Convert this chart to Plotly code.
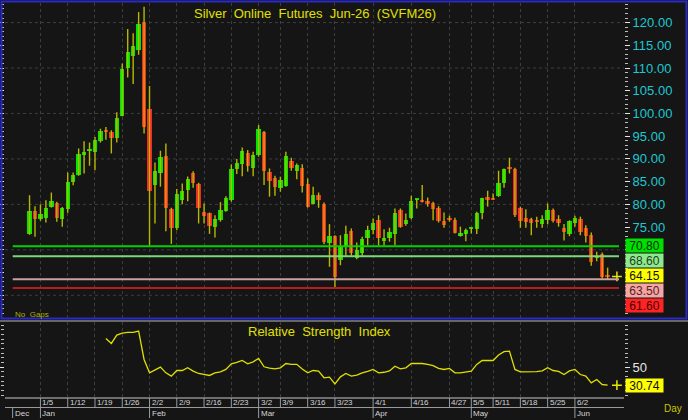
import plotly.graph_objects as go

# ---------------- data ----------------
opens = [73.5, 78.6, 76.7, 76.9, 79.5, 80.35, 76.7, 78.95, 84.9, 86.45,
         90.9, 91.8, 91.5, 93.9, 96.3, 96.0, 94.5, 99.45, 110.0, 112.65,
         113.9, 120.2, 101.0, 84.25, 87.0, 90.6, 78.9, 74.85, 80.95, 83.1,
         86.8, 84.4, 78.4, 78.0, 75.1, 76.5, 78.6, 81.0, 87.7, 88.8,
         91.4, 87.9, 90.85, 96.0, 87.2, 85.7, 83.65, 84.1, 89.6, 87.3,
         88.1, 84.5, 80.1, 82.0, 80.05, 71.55, 73.1, 67.7, 70.65, 74.2,
         68.1, 69.2, 72.7, 74.4, 76.5, 71.9, 72.5, 73.45, 78.8, 75.65,
         76.9, 81.1, 80.95, 80.8, 80.4, 79.25, 76.4, 76.8, 76.6, 73.1,
         73.45, 74.6, 74.55, 78.0, 81.6, 81.3, 81.8, 84.75, 88.2, 87.8,
         79.3, 77.05, 76.7, 76.25, 75.6, 76.5, 78.7, 76.7, 74.7, 73.45,
         75.95, 76.8, 74.7, 73.2, 68.2, 69.0, 64.2]
highs = [82.0, 79.6, 80.0, 80.9, 82.6, 80.6, 79.4, 87.0, 87.0, 92.3,
         93.9, 93.6, 94.8, 96.65, 97.0, 96.3, 100.25, 111.0, 118.6, 117.65,
         122.3, 123.5, 106.05, 89.2, 91.8, 93.4, 79.25, 83.4, 84.6, 86.15,
         87.3, 84.75, 80.2, 78.2, 77.6, 80.5, 81.8, 88.8, 90.0, 92.5,
         91.95, 91.6, 97.45, 96.15, 87.9, 86.3, 86.1, 91.6, 90.25, 89.0,
         88.8, 85.7, 83.9, 82.6, 80.4, 75.65, 73.2, 73.2, 75.3, 74.7,
         71.6, 72.9, 75.3, 76.9, 77.6, 74.55, 74.85, 79.1, 79.1, 78.0,
         81.9, 81.2, 84.25, 81.5, 80.6, 79.6, 78.2, 77.5, 77.05, 75.1,
         74.7, 74.85, 78.4, 81.45, 83.0, 82.4, 87.4, 87.9, 90.25, 88.05,
         79.5, 78.95, 77.05, 77.3, 77.6, 80.2, 79.1, 77.6, 75.7, 76.5,
         77.5, 77.3, 75.4, 73.8, 69.55, 69.4, 66.1]
lows = [73.3, 72.9, 76.4, 76.0, 79.3, 76.2, 75.1, 78.15, 84.2, 86.3,
        86.8, 88.5, 87.5, 93.6, 94.2, 91.2, 93.6, 99.4, 107.9, 106.5,
        112.9, 95.6, 70.9, 75.8, 83.9, 74.1, 71.3, 74.3, 80.0, 80.7,
        83.65, 75.8, 75.8, 73.5, 72.7, 76.2, 78.4, 80.6, 86.7, 86.2,
        87.2, 86.2, 90.5, 84.25, 81.7, 81.9, 82.8, 83.9, 87.4, 85.55,
        82.6, 79.3, 80.0, 79.25, 71.2, 66.25, 61.6, 66.6, 68.7, 68.7,
        67.9, 68.7, 71.0, 73.4, 70.9, 70.9, 71.8, 71.0, 74.85, 75.3,
        76.75, 79.1, 80.4, 79.5, 76.5, 76.0, 74.85, 76.2, 73.6, 72.9,
        71.9, 73.6, 73.5, 76.75, 79.5, 81.0, 81.65, 83.65, 86.8, 77.2,
        74.85, 74.85, 73.2, 74.85, 74.85, 75.6, 76.0, 75.1, 72.05, 73.0,
        75.1, 73.2, 71.6, 66.5, 67.5, 63.7, 63.5]
closes = [78.6, 76.7, 77.8, 79.2, 80.8, 77.05, 79.25, 85.0, 86.4, 91.15,
          91.5, 91.9, 94.2, 96.2, 96.1, 94.5, 98.9, 109.8, 113.6, 114.8,
          119.6, 97.1, 83.0, 87.3, 90.5, 79.1, 74.7, 82.2, 83.0, 85.6,
          84.75, 79.1, 77.5, 75.2, 76.8, 78.8, 81.45, 87.8, 89.0, 91.8,
          88.4, 90.85, 96.6, 87.3, 85.1, 83.9, 85.4, 90.6, 88.05, 88.65,
          84.1, 79.5, 82.0, 80.9, 71.8, 73.0, 64.05, 70.65, 73.5, 69.2,
          69.9, 72.35, 74.3, 76.0, 72.5, 72.6, 74.0, 78.2, 75.1, 76.5,
          80.7, 81.2, 80.6, 80.0, 78.95, 76.3, 75.45, 76.7, 73.8, 73.6,
          74.4, 74.7, 78.0, 81.3, 81.0, 81.1, 84.8, 87.7, 87.9, 77.6,
          76.3, 76.2, 75.95, 76.15, 76.7, 78.7, 76.3, 75.95, 74.0, 76.3,
          77.05, 74.0, 73.1, 67.35, 68.3, 64.05, 64.15]

rsi_idx = list(range(14, 107))
rsi_vals = [80.7, 75.4, 84.3, 86.5, 87.1, 87.1, 88.6, 58.2, 43.9, 47.0,
            50.0, 43.9, 40.4, 46.4, 46.4, 49.3, 45.7, 43.2, 42.0, 41.1,
            43.9, 45.0, 47.5, 53.6, 55.0, 57.1, 53.6, 55.7, 59.3, 50.4,
            49.0, 48.2, 49.3, 53.9, 52.9, 53.0, 48.0, 43.9, 46.4, 45.7,
            38.6, 39.3, 32.1, 39.6, 43.2, 40.4, 41.4, 43.9, 45.5, 47.5,
            43.9, 44.5, 46.0, 51.0, 48.2, 49.3, 53.9, 54.0, 53.9, 52.9,
            51.5, 48.6, 47.5, 48.6, 43.9, 43.9, 44.5, 45.7, 52.9, 57.1,
            57.1, 57.1, 63.0, 66.5, 67.1, 47.5, 45.0, 45.0, 45.0, 45.2,
            46.0, 49.3, 46.4, 45.5, 42.1, 46.0, 47.5, 42.1, 40.4, 33.2,
            36.8, 31.4, 30.74]

week_idx = [2, 7, 12, 17, 22, 27, 32, 37, 42, 46, 51, 56, 63, 70, 77, 81, 85, 90, 95, 100]
week_labels = ["1/5", "1/12", "1/19", "1/26", "2/2", "2/9", "2/16", "2/23", "3/2", "3/9",
               "3/16", "3/23", "4/1", "4/16", "4/27", "5/5", "5/11", "5/18", "5/25", "6/2"]
month_idx = [-3.1, 2, 22, 42, 63, 81, 100]
month_labels = ["Dec", "Jan", "Feb", "Mar", "Apr", "May", "Jun"]

level_vals = [70.80, 68.60, 63.50, 61.60]
price_ticks = [60, 65, 70, 75, 80, 85, 90, 95, 100, 105, 110, 115, 120]
price_tick_text = ["", "", "", "75.00", "80.00", "85.00", "90.00", "95.00",
                   "100.00", "105.00", "110.00", "115.00", "120.00"]

# ---------------- styling helpers ----------------
FONT = "Liberation Sans, Arial, sans-serif"
BG = "#151515"
GRID = "#3e3e3e"
W, H = 688, 420
ML, MR, MT, MB = 5, 64, 3, 22
PW, PH = W - ML - MR, H - MT - MB


def px(xp):
    return (xp - ML) / PW


def py(yp):
    return (H - MB - yp) / PH


n = len(closes)
idx = list(range(n))

fig = go.Figure()

# wicks
wx, wy = [], []
for i in idx:
    wx += [i, i, None]
    wy += [lows[i], highs[i], None]
fig.add_trace(go.Scatter(x=wx, y=wy, mode="lines", line=dict(color="#b8b800", width=1.4),
                         hoverinfo="skip", showlegend=False, xaxis="x", yaxis="y"))

# bodies
base = [min(o, c) for o, c in zip(opens, closes)]
height = [max(abs(c - o), 0.3) for o, c in zip(opens, closes)]
colors = ["#00e600" if c >= o else "#f22a2a" for o, c in zip(opens, closes)]
fig.add_trace(go.Bar(x=idx, y=height, base=base, width=0.8, marker=dict(color=colors, line=dict(width=0)),
                     showlegend=False, xaxis="x", yaxis="y"))

# last price marker
fig.add_trace(go.Scatter(x=[n - 1 + 1.7], y=[closes[-1]], mode="markers",
                         marker=dict(symbol="cross-thin", size=7, line=dict(color="#e8e800", width=1.5)),
                         showlegend=False, xaxis="x", yaxis="y"))

# RSI
fig.add_trace(go.Scatter(x=rsi_idx, y=rsi_vals, mode="lines", line=dict(color="#dede00", width=1.3),
                         showlegend=False, xaxis="x2", yaxis="y2"))
fig.add_trace(go.Scatter(x=[n - 1 + 1.7], y=[rsi_vals[-1]], mode="markers",
                         marker=dict(symbol="cross-thin", size=7, line=dict(color="#e8e800", width=1.5)),
                         showlegend=False, xaxis="x2", yaxis="y2"))

shapes = []
# horizontal gridlines in the price panel
for g in range(60, 121, 10):
    shapes.append(dict(type="line", xref="paper", yref="y", x0=0, x1=1, y0=g, y1=g,
                       line=dict(color=GRID, width=1, dash="dot"), layer="below"))
# level lines
level_line_colors = ["#00d400", "#7ad87a", "#c8a0a0", "#b41e1e"]
for v, col in zip(level_vals, level_line_colors):
    shapes.append(dict(type="line", xref="paper", yref="y", x0=px(12.7), x1=px(619), y0=v, y1=v,
                       line=dict(color=col, width=2)))
# frame of price panel
shapes.append(dict(type="rect", xref="paper", yref="paper", x0=px(1.5), x1=px(686.5), y0=py(318.5), y1=py(1.5),
                   line=dict(color="#2a2ac8", width=2)))
# separator line between panels
shapes.append(dict(type="line", xref="paper", yref="paper", x0=px(0), x1=px(688), y0=py(321), y1=py(321),
                   line=dict(color="#b8b8b8", width=1)))
# date band lines
shapes.append(dict(type="line", xref="paper", yref="paper", x0=px(5), x1=px(624), y0=py(398), y1=py(398),
                   line=dict(color="#c8c8c8", width=1)))
shapes.append(dict(type="line", xref="paper", yref="paper", x0=px(5), x1=px(624), y0=py(407.5), y1=py(407.5),
                   line=dict(color="#9a9a9a", width=1)))
for wi in week_idx:
    shapes.append(dict(type="line", xref="x2", yref="paper", x0=wi, x1=wi, y0=py(398), y1=py(407.5),
                       line=dict(color="#9a9a9a", width=1)))
for mi in month_idx:
    shapes.append(dict(type="line", xref="x2", yref="paper", x0=mi, x1=mi, y0=py(407.5), y1=py(418),
                       line=dict(color="#9a9a9a", width=1)))

ann = []
ann.append(dict(text="Silver  Online  Futures  Jun-26  (SVFM26)", xref="paper", yref="paper",
                x=px(315), y=py(13), xanchor="center", yanchor="middle", showarrow=False,
                font=dict(family=FONT, size=13, color="#e0e000")))
ann.append(dict(text="Relative  Strength  Index", xref="paper", yref="paper",
                x=px(319), y=py(331), xanchor="center", yanchor="middle", showarrow=False,
                font=dict(family=FONT, size=13, color="#e0e000")))
ann.append(dict(text="No  Gaps", xref="paper", yref="paper", x=px(13), y=py(314),
                xanchor="left", yanchor="middle", showarrow=False,
                font=dict(family=FONT, size=8, color="#b0b000")))
ann.append(dict(text="Day", xref="paper", yref="paper", x=px(662), y=py(409),
                xanchor="left", yanchor="middle", showarrow=False,
                font=dict(family=FONT, size=10, color="#c8c800")))
for wi, wl in zip(week_idx, week_labels):
    ann.append(dict(text=wl, xref="x2", yref="paper", x=wi, y=py(402.5), xanchor="left", yanchor="middle",
                    xshift=0, showarrow=False, font=dict(family=FONT, size=8, color="#d6d6d6")))
for mi, ml in zip(month_idx, month_labels):
    ann.append(dict(text=ml, xref="x2", yref="paper", x=mi, y=py(413), xanchor="left", yanchor="middle",
                    xshift=0, showarrow=False, font=dict(family=FONT, size=8, color="#d6d6d6")))

# value boxes on the right (stacked so they do not overlap)
box_vals = [level_vals[0], level_vals[1], closes[-1], level_vals[2], level_vals[3]]
box_bg = ["#00e000", "#8ee88e", "#ffff00", "#f2a6a6", "#ff2424"]
box_fg = ["#0a2a0a", "#204020", "#101010", "#5a2020", "#4a0000"]
box_shift = [1, -4.5, 0.5, -11.3, -17.2]
for v, bg, fg, sh in zip(box_vals, box_bg, box_fg, box_shift):
    ann.append(dict(text=f"{v:.2f}", xref="paper", yref="y", x=px(625), y=v, yshift=sh,
                    xanchor="left", yanchor="middle", showarrow=False, bgcolor=bg, width=37, height=13,
                    borderpad=0, align="center", font=dict(family=FONT, size=12, color=fg)))
ann.append(dict(text=f"{rsi_vals[-1]:.2f}", xref="paper", yref="y2", x=px(625), y=rsi_vals[-1],
                xanchor="left", yanchor="middle", showarrow=False, bgcolor="#ffff00", width=37, height=13,
                borderpad=0, align="center", font=dict(family=FONT, size=12, color="#101010")))

fig.update_layout(
    width=W, height=H, margin=dict(l=ML, r=MR, t=MT, b=MB),
    paper_bgcolor=BG, plot_bgcolor=BG, showlegend=False, bargap=0,
    font=dict(family=FONT),
    xaxis=dict(domain=[0, 1], range=[-4.5, 109], anchor="y", tickvals=week_idx, showticklabels=False,
               showgrid=True, gridcolor=GRID, griddash="dot", gridwidth=1, zeroline=False, ticks="",
               showline=False),
    yaxis=dict(domain=[py(318), 1], range=[55.0, 124.3], side="right", anchor="x",
               tickvals=price_ticks, ticktext=price_tick_text,
               tickfont=dict(family=FONT, size=13, color="#1ec8d2"),
               ticks="outside", ticklen=5, tickcolor="#e6e6e6", tickwidth=1,
               minor=dict(dtick=1, ticks="outside", ticklen=3, tickcolor="#bdbdbd"),
               mirror="ticks", showline=False, showgrid=False, zeroline=False),
    xaxis2=dict(domain=[0, 1], range=[-4.5, 109], anchor="y2", matches="x", tickvals=week_idx,
                showticklabels=False, showgrid=True, gridcolor=GRID, griddash="dot", zeroline=False,
                ticks="", showline=False),
    yaxis2=dict(domain=[py(397.5), py(322)], range=[17.5, 98.3], side="right", anchor="x2",
                tickvals=[50], ticktext=["50"], tickfont=dict(family=FONT, size=13, color="#e6e6e6"),
                ticks="outside", ticklen=5, tickcolor="#e6e6e6",
                minor=dict(dtick=5, ticks="outside", ticklen=3, tickcolor="#bdbdbd"),
                mirror="ticks", showline=False, showgrid=False, zeroline=False),
    shapes=shapes, annotations=ann,
)

fig.write_html("out.html")
